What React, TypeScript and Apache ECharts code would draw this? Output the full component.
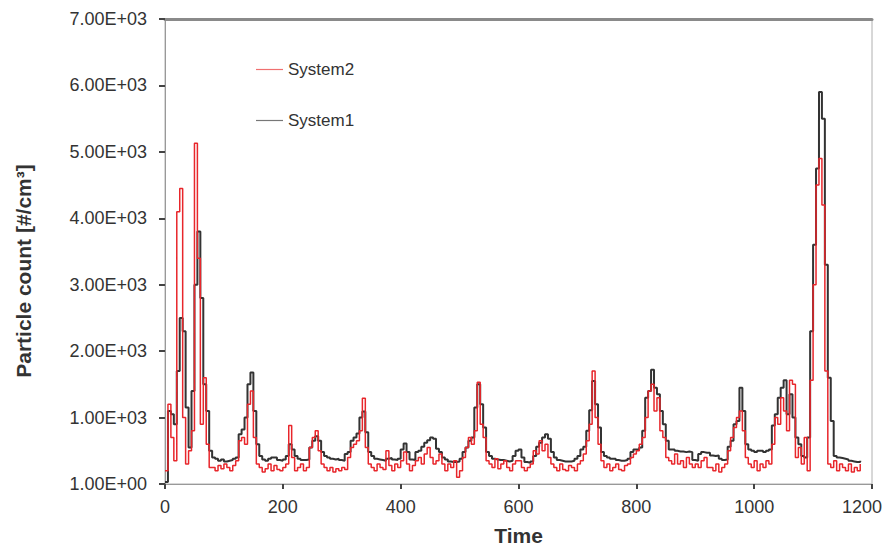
import React, { useEffect, useRef } from "react";
import * as echarts from "echarts";

// sampling grid of the time axis (step of 5 time units)
const TIME_STEP = 5;

// System1 (black) particle counts, t = 0, 5, 10, ...
const system1: number[] = [
  30, 1100, 1050, 900, 1700, 2500, 2300, 1150, 550, 1400, 3000, 3800, 2800, 1500, 1100, 500, 400, 380, 350, 370,
  340, 350, 360, 380, 400, 750, 820, 1000, 1500, 1680, 1100, 600, 420, 370, 350, 380, 400, 400, 360, 350,
  370, 420, 600, 520, 420, 380, 360, 360, 370, 550, 650, 720, 650, 480, 420, 400, 380, 370, 380, 360,
  350, 450, 480, 650, 700, 760, 1000, 1090, 780, 480, 420, 380, 370, 360, 350, 380, 390, 370, 360, 380,
  520, 610, 480, 370, 360, 480, 500, 560, 620, 660, 700, 680, 530, 480, 400, 370, 340, 330, 330, 340,
  380, 480, 550, 650, 700, 1150, 1500, 1200, 850, 480, 420, 380, 370, 360, 360, 350, 340, 350, 420, 500,
  520, 400, 330, 320, 340, 420, 560, 620, 700, 750, 680, 480, 400, 360, 350, 340, 340, 340, 350, 380,
  420, 520, 560, 800, 1110, 1550, 1200, 850, 480, 420, 400, 380, 380, 360, 350, 350, 360, 380, 480, 520,
  520, 550, 800, 1300, 1400, 1720, 1450, 1350, 1100, 900, 650, 520, 520, 500, 490, 490, 480, 490, 480, 360,
  350, 450, 480, 470, 470, 430, 420, 430, 380, 360, 370, 560, 650, 900, 950, 1450, 1100, 600, 520, 500,
  480, 500, 500, 480, 500, 520, 880, 1050, 1300, 1450, 1560, 1050, 1350, 1000, 700, 600, 420, 400, 700, 2300,
  3600, 4750, 5900, 5500, 3300, 1600, 950, 420, 400, 390, 380, 370, 350, 340, 330, 330, 350,
];

// System2 (red) particle counts, t = 0, 5, 10, ...
const system2: number[] = [
  200, 1200, 700, 350, 4100, 4450, 1000, 300, 500, 800, 5130, 3400, 900, 1600, 600, 250, 250, 200, 280, 230,
  300, 250, 200, 280, 350, 650, 700, 600, 1200, 1400, 700, 300, 250, 180, 230, 300, 200, 280, 220, 200,
  250, 300, 880, 400, 200, 250, 300, 200, 250, 550, 700, 800, 500, 300, 250, 200, 250, 180, 230, 200,
  250, 220, 400, 550, 600, 650, 800, 1290, 550, 300, 250, 200, 300, 250, 220, 500, 280, 200, 300, 250,
  350, 480, 300, 200, 280, 350, 400, 300, 450, 550, 400, 300, 350, 450, 300, 200, 300, 250, 350, 100,
  200, 400, 550, 700, 600, 800, 1530, 900, 700, 350, 300, 250, 380, 230, 300, 350, 250, 200, 300, 350,
  350, 250, 200, 250, 300, 500, 450, 650, 500, 600, 400, 300, 250, 200, 300, 220, 200, 280, 250, 200,
  300, 350, 450, 650, 900, 1700, 1000, 600, 350, 250, 300, 200, 250, 300, 220, 200, 280, 300, 400, 450,
  500, 600, 700, 1000, 1400, 1500, 1100, 1300, 800, 700, 400, 350, 300, 450, 300, 350, 250, 400, 300, 250,
  300, 250, 350, 400, 250, 250, 200, 300, 180, 250, 300, 500, 700, 850, 1000, 1100, 800, 400, 300, 250,
  350, 200, 300, 250, 350, 300, 600, 1000, 900, 1300, 1100, 800, 1560, 1500, 400, 550, 300, 700, 200, 1560,
  3000, 4500, 4900, 4200, 1700, 300, 250, 350, 200, 300, 250, 200, 300, 180, 250, 200, 300,
];

const xTicks = { min: 0, max: 1200, interval: 200 };
const yTicks = { min: 0, max: 7000, interval: 1000 };

const FONT = '"Liberation Sans", Arial, sans-serif';
const BLACK = "#333333";
const RED = "#e8262b";

function fmtY(v: number): string {
  if (v === 0) return "1.00E+00";
  return (v / 1000).toFixed(2) + "E+03";
}

function fmtX(v: number): string {
  return v === xTicks.max ? "{last|" + v + "}" : String(v);
}

export default function App() {
  const ref = useRef<HTMLDivElement>(null);
  useEffect(() => {
    if (!ref.current) return;
    const chart = echarts.init(ref.current, null, { renderer: "svg" });
    const s1 = system1.map((v, i) => [i * TIME_STEP, v]);
    const s2 = system2.map((v, i) => [i * TIME_STEP, v]);
    chart.setOption({
      animation: false,
      backgroundColor: "#ffffff",
      grid: {
        left: 165,
        right: 18,
        top: 19,
        bottom: 62,
        outerBoundsMode: "none",
        containLabel: false,
        show: true,
        borderColor: "#b0b0b0",
        borderWidth: 1,
      },
      legend: {
        data: ["System2", "System1"],
        orient: "vertical",
        left: 251,
        top: 56,
        icon: "rect",
        itemWidth: 27,
        itemHeight: 1.2,
        itemGap: 34,
        textStyle: { fontSize: 17, color: "#333", fontFamily: FONT },
      },
      xAxis: [
        {
          type: "value",
          ...xTicks,
          axisLine: { show: true, lineStyle: { color: "#999", width: 1 } },
          axisTick: { show: true, length: 5, lineStyle: { color: "#444", width: 2 } },
          axisLabel: {
            color: "#333",
            fontSize: 18,
            fontFamily: FONT,
            margin: 14,
            formatter: fmtX,
            rich: {
              last: { padding: [0, 20, 0, 0], fontSize: 18, color: "#333", fontFamily: FONT },
            },
          },
          splitLine: { show: false },
          name: "Time",
          nameLocation: "middle",
          nameGap: 41,
          nameTextStyle: { fontSize: 21, fontWeight: "bold", color: "#333", fontFamily: FONT },
        },
        {
          type: "value",
          position: "top",
          ...xTicks,
          axisLine: { show: true, lineStyle: { color: "#8a8a8a", width: 3 } },
          axisTick: { show: false },
          axisLabel: { show: false },
          splitLine: { show: false },
        },
      ],
      yAxis: {
        type: "value",
        ...yTicks,
        axisLine: { show: true, lineStyle: { color: "#999", width: 1 } },
        axisTick: { show: true, length: 6, lineStyle: { color: "#444", width: 2 } },
        axisLabel: { color: "#333", fontSize: 18, fontFamily: FONT, margin: 18, formatter: fmtY },
        splitLine: { show: false },
      },
      graphic: [
        {
          type: "text",
          x: 23,
          y: 271,
          rotation: Math.PI / 2,
          style: {
            text: "Particle count [#/cm³]",
            font: 'bold 21px "Liberation Sans", Arial, sans-serif',
            fill: "#333",
            align: "center",
            verticalAlign: "middle",
          },
        },
      ],
      series: [
        {
          name: "System1",
          type: "line",
          xAxisIndex: 0,
          data: s1,
          step: "end",
          symbol: "none",
          showSymbol: false,
          itemStyle: { color: "#777777" },
          lineStyle: { color: BLACK, width: 2 },
        },
        {
          name: "System2",
          type: "line",
          xAxisIndex: 0,
          data: s2,
          step: "end",
          symbol: "none",
          showSymbol: false,
          itemStyle: { color: "#f07070" },
          lineStyle: { color: RED, width: 1.5 },
        },
      ],
    });
    return () => chart.dispose();
  }, []);
  return (
    <div
      ref={ref}
      style={{ position: "fixed", left: 0, top: 0, width: 890, height: 546 }}
    />
  );
}
